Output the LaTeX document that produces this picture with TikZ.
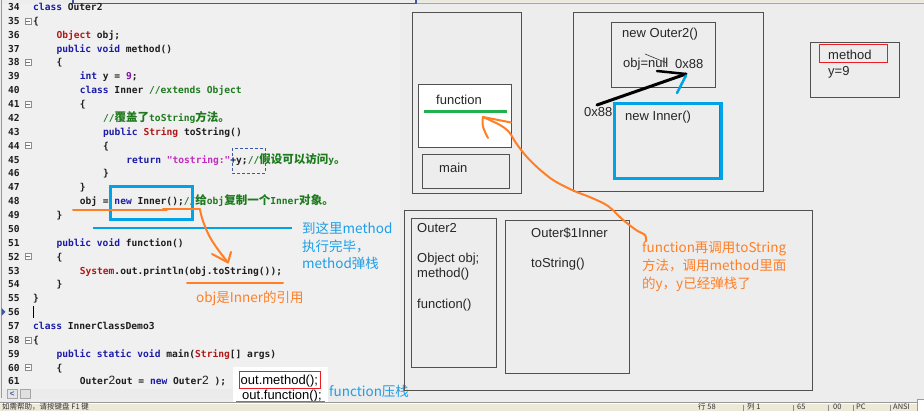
\documentclass[tikz,border=0pt]{standalone}
\usepackage{fontspec}
\setmainfont{Liberation Sans}
\newfontfamily\codefont{DejaVu Sans Mono}
\newfontfamily\cjkcode[Scale=1.2]{Noto Sans CJK SC}
\newfontfamily\cjk{Noto Sans CJK SC}
\definecolor{bgc}{HTML}{EDEDED}
\definecolor{codebg}{HTML}{F0F0F0}
\definecolor{codeblack}{HTML}{1E1E1E}
\definecolor{kwblue}{HTML}{1C1CA8}
\definecolor{tyred}{HTML}{B01818}
\definecolor{cmgreen}{HTML}{1F7A1F}
\definecolor{strmag}{HTML}{C02CC0}
\definecolor{numpur}{HTML}{8010A0}
\definecolor{boxgray}{HTML}{505050}
\definecolor{annblue}{HTML}{1E9EE6}
\definecolor{penblue}{HTML}{00A2E8}
\definecolor{annorange}{HTML}{FF7F27}
\definecolor{pengreen}{HTML}{22B14C}
\definecolor{penred}{HTML}{ED1C24}
\definecolor{statusbg}{HTML}{ECE9D8}
\definecolor{framblue}{HTML}{3C58A8}
\newcommand\kwd[1]{\textcolor{kwblue}{#1}}
\newcommand\typ[1]{\textcolor{tyred}{#1}}
\newcommand\cmt[1]{\textcolor{cmgreen}{#1}}
\newcommand\strl[1]{\textcolor{strmag}{#1}}
\newcommand\numl[1]{\textcolor{numpur}{#1}}
\newcommand\zh[1]{{\cjkcode #1}}
\newcommand\sftwo{{\rmfamily\mdseries\fontsize{12}{12}\selectfont 2}}
\begin{document}
\begin{tikzpicture}[x=1pt,y=-1pt,
  code/.style={anchor=base west,inner sep=0pt,text=codeblack,font=\codefont\fontsize{9.6}{11}\selectfont\bfseries},
  lbl/.style={anchor=base west,inner sep=0pt,text=black!85,font=\fontsize{13}{15}\selectfont},
  note/.style={anchor=base west,inner sep=0pt,font=\cjk\fontsize{13.5}{16}\selectfont},
  bluenote/.style={note,text=annblue},
  orangenote/.style={note,text=annorange},
  statustext/.style={anchor=base west,inner sep=0pt,text=black!80,font=\cjk\fontsize{7.5}{8}\selectfont},
  box/.style={draw=boxgray,line width=1pt,anchor=north west,inner sep=0pt},
  fold/.style={draw=black!45,line width=0.6pt,minimum size=6pt,inner sep=0pt,fill=white},
  pen/.style={line width=2pt,line cap=round,line join=round},
]
\useasboundingbox (0,0) rectangle (924,411);
\clip (0,0) rectangle (924,411);
\fill[bgc] (0,0) rectangle (924,411);
\fill[codebg] (2,4) rectangle (400,398);
% window frame at top
\fill[statusbg] (417,0) rectangle (924,2.5);
\draw[black!35,line width=0.8pt] (417,3) -- (924,3);
\draw[framblue,line width=1.2pt] (73,-2) -- (73,3.5) -- (416,3.5) -- (416,-2);
\draw[black!40,line width=1pt] (1.5,0) -- (1.5,398);

% ---------- code ----------
\foreach \n in {34,...,61} {
  \node[code] (ln\n) at (8,{7+(\n-34)*13.87+3.5}) {\n};
}
\foreach \n in {35,38,41,44,52,58,60} {
  \node[fold] (fd\n) at (28,{7+(\n-34)*13.87}) {};
  \draw[black!55,line width=0.6pt] ([xshift=-1.8pt]fd\n.center) -- ([xshift=1.8pt]fd\n.center);
}
\node[code] (c34) at (33,10.5) {\kwd{class} Outer2};
\node[code] (c35) at (33,24.37) {\{};
\node[code] (c36) at (56.3,38.24) {\typ{Object} obj;};
\node[code] (c37) at (56.3,52.11) {\kwd{public} \kwd{void} method()};
\node[code] (c38) at (56.3,65.98) {\{};
\node[code] (c39) at (79.6,79.85) {\kwd{int} y = \numl{9};};
\node[code] (c40) at (79.6,93.72) {\kwd{class} Inner \cmt{//extends Object}};
\node[code] (c41) at (79.6,107.59) {\{};
\node[code] (c42) at (102.9,121.46) {\cmt{//\zh{覆盖了}toString\zh{方法。}}};
\node[code] (c43) at (102.9,135.33) {\kwd{public} \typ{String} toString()};
\node[code] (c44) at (102.9,149.2) {\{};
\node[code] (c45) at (126.2,163.07) {\kwd{return} \strl{"tostring:"}+y;\cmt{//\zh{假设可以访问}y\zh{。}}};
\node[code] (c46) at (102.9,176.94) {\}};
\node[code] (c47) at (79.6,190.81) {\}};
\node[code] (c48) at (79.6,204.68) {obj = \kwd{new} Inner();\cmt{//\zh{给}obj\zh{复制一个}Inner\zh{对象。}}};
\node[code] (c49) at (56.3,218.55) {\}};
\node[code] (c51) at (56.3,246.29) {\kwd{public} \kwd{void} function()};
\node[code] (c52) at (56.3,260.16) {\{};
\node[code] (c53) at (79.6,274.03) {\typ{System}.out.println(obj.toString());};
\node[code] (c54) at (56.3,287.9) {\}};
\node[code] (c55) at (33,301.77) {\}};
\node[code] (c57) at (33,329.51) {\kwd{class} InnerClassDemo3};
\node[code] (c58) at (33,343.38) {\{};
\node[code] (c59) at (56.3,357.25) {\kwd{public} \kwd{static} \kwd{void} main(\typ{String}[] args)};
\node[code] (c60) at (56.3,371.12) {\{};
\node[code] (c61) at (79.6,384.99) {Outer\sftwo out = \kwd{new} Outer\sftwo\ );};
% line 56 marker and cursor
\fill[framblue] (1.5,308) -- (1.5,316) -- (5.5,312) -- cycle;
\draw[black,line width=0.9pt] (33,306) -- (33,318);
% dashed box on line 45
\draw[framblue,line width=0.8pt,dash pattern=on 3pt off 2pt] (232,148) rectangle (265,173);

% scroll bar
\fill[black!8] (3,389) rectangle (400,399);
\node[draw=black!35,fill=black!10,minimum width=10pt,minimum height=9pt,inner sep=0pt,anchor=north west,font=\fontsize{8}{8}\selectfont\bfseries,text=framblue] (sbl) at (7,389.5) {<};
\node[draw=black!35,fill=black!12,minimum width=10pt,minimum height=9pt,inner sep=0pt,anchor=north west] (sbb) at (20,389.5) {};

% ---------- annotations on code ----------
\draw[penblue,line width=3pt] (110,187) rectangle (192,220);
\draw[penblue,line width=2.5pt] (93,228) -- (292,228);
\node[bluenote] (n1) at (302,234) {到这里method};
\node[bluenote] (n2) at (302,251.5) {执行完毕，};
\node[bluenote] (n3) at (302,268.5) {method弹栈};

\coordinate (oA) at (73,210.5);
\coordinate (oB) at (200,209.5);
\coordinate (oT) at (228,262.5);
\draw[annorange,pen] (oA) -- (167,210.5);
\draw[annorange,pen] (163,209.5) -- (oB);
\draw[annorange,pen] plot[smooth] coordinates {(oB) (202,218) (206,229) (211,239) (219,251) (oT)};
\draw[annorange,pen] (212,254) -- (oT) -- (231,252);
\draw[annorange,pen] (187,283) -- (283,283);
\node[orangenote] (n4) at (196,302.5) {obj是Inner的引用};

\fill[white] (233,367) rectangle (328,405);
\node[lbl,text=black,font=\fontsize{13}{15}\selectfont] (om) at (240.5,385) {out.method();};
\node[lbl,text=black,font=\fontsize{13}{15}\selectfont] (of) at (242,400) {out.function();};
\draw[penred,line width=1pt] (239,372) rectangle (320,388.5);
\draw[pengreen,line width=2pt] (236,402) -- (325,402);
\node[bluenote] (n5) at (329,397) {function压栈};

% ---------- memory diagram ----------
\node[box,fill=bgc,minimum width=109pt,minimum height=181pt] (stack) at (412,12) {};
\node[box,fill=white,minimum width=93pt,minimum height=63pt] (fbox) at (418,84) {};
\node[lbl] (ftext) at (436,104.5) {function};
\draw[pengreen,line width=3pt] (424,112) -- (507,112);
\node[box,minimum width=87pt,minimum height=34pt] (mbox) at (422,154) {};
\node[lbl] (mtext) at (439,172.5) {main};

\node[box,minimum width=190pt,minimum height=179pt] (heap) at (573,12) {};
\node[box,minimum width=104pt,minimum height=65pt] (oobj) at (611,22) {};
\node[lbl] (ootext) at (622,37.5) {new Outer2()};
\node[lbl] (objtext) at (623,67.5) {obj=null};
\draw[black!80,line width=0.6pt] (645,54) -- (667,63);
\node[lbl] (addr1) at (675,68.5) {0x88};
\node[box,minimum width=106pt,minimum height=76pt,draw=black!60] (iobj) at (613,103) {};
\draw[penblue,line width=3pt] (614.5,103.5) rectangle (721,179);
\node[lbl] (itext) at (625,120.5) {new Inner()};
\node[lbl] (addr2) at (584,116.5) {0x88};
\coordinate (pA) at (597,105);
\coordinate (pT) at (686,74);
\draw[black,line width=3pt,line cap=round] (pA) -- (pT);
\draw[black,line width=2.5pt,line cap=round] (657,71) -- (pT);
\draw[penblue,line width=2.5pt,line cap=round] (677,93) -- (686,75.5);

\node[box,minimum width=89pt,minimum height=55pt] (mframe) at (810,42) {};
\draw[penred,line width=1pt] (819,45) rectangle (887,63);
\node[lbl] (mlabel) at (828,60) {method};
\node[lbl] (ylabel) at (828,76) {y=9};

\node[box,minimum width=408pt,minimum height=180pt] (big) at (404,210) {};
\node[box,minimum width=85pt,minimum height=149pt] (ocls) at (411,218) {};
\node[lbl] (oc1) at (417,232.5) {Outer2};
\node[lbl] (oc2) at (417,262.5) {Object obj;};
\node[lbl] (oc3) at (417,277.5) {method()};
\node[lbl] (oc4) at (417,308.5) {function()};
\node[box,minimum width=124pt,minimum height=153pt] (icls) at (505,220) {};
\node[lbl] (ic1) at (531,237.5) {Outer\$1Inner};
\node[lbl] (ic2) at (531,267.5) {toString()};

\node[orangenote] (t1) at (642,253) {function再调用toString};
\node[orangenote] (t2) at (642,271) {方法，调用method里面};
\node[orangenote] (t3) at (642,288.5) {的y，y已经弹栈了};
\coordinate (qS) at (646,241);
\coordinate (qT) at (483,117);
\draw[annorange,pen] plot[smooth] coordinates {(qS) (645,235) (636,230) (622,219) (608,206) (592,198) (572,190) (553,180) (538,168) (526,156) (516,143) (509,132) (500,125) (qT)};
\draw[annorange,pen] (qT) -- (511,122.5);
\draw[annorange,pen] (qT) .. controls (481,126) and (485,132) .. (488,138);

% ---------- status bar ----------
\fill[statusbg] (0,402) rectangle (924,411);
\draw[black!40,line width=0.8pt] (0,402) -- (924,402);
\draw[white,line width=0.8pt] (0,403) -- (924,403);
\node[statustext] (s0) at (2,409.6) {如需帮助，请按键盘 F1 键};
\node[statustext] (s1) at (698,409.6) {行 58};
\node[statustext] (s2) at (747,409.6) {列 1};
\node[statustext] (s3) at (797,409.6) {65};
\node[statustext] (s4) at (833,409.6) {00};
\node[statustext] (s5) at (856,409.6) {PC};
\node[statustext] (s6) at (893,409.6) {ANSI};
\foreach \xx in {743,793,828,853,890} {
  \draw[black!45,line width=0.8pt] (\xx,405) -- (\xx,411);
}
\draw[framblue!60,fill=white,line width=1pt] (917,400) rectangle (927,414);
\end{tikzpicture}
\end{document}
